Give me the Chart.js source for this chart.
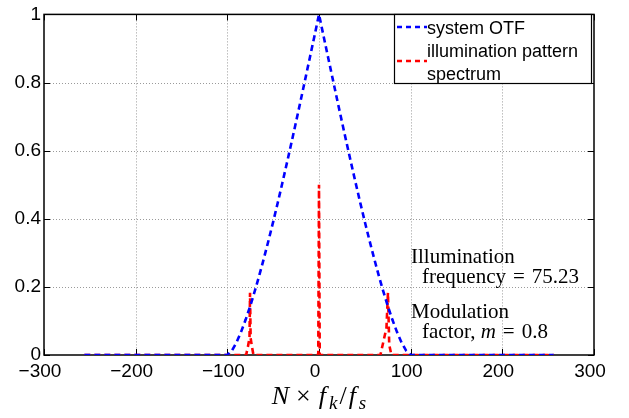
<!DOCTYPE html>
<html><head><meta charset="utf-8">
<script src="https://cdn.jsdelivr.net/npm/chart.js@4/dist/chart.umd.min.js"></script>
<style>html,body{margin:0;padding:0;background:#fff;}</style>
</head><body>
<canvas id="c" width="629" height="418"></canvas>
<script>
// ---- data ----
const otfX = [-256, -100, -95, -90, -85, -80, -75, -70, -65, -60, -55, -50, -45, -40, -35, -30, -25, -20, -15, -10, -5, 0,
              5, 10, 15, 20, 25, 30, 35, 40, 45, 50, 55, 60, 65, 70, 75, 80, 85, 90, 95, 100, 256];
const otfY = [0, 0, 0.013, 0.037, 0.068, 0.104, 0.144, 0.188, 0.235, 0.285, 0.337, 0.391, 0.447, 0.505, 0.564, 0.624, 0.685, 0.747, 0.810, 0.873, 0.936, 1,
              0.936, 0.873, 0.810, 0.747, 0.685, 0.624, 0.564, 0.505, 0.447, 0.391, 0.337, 0.285, 0.235, 0.188, 0.144, 0.104, 0.068, 0.037, 0.013, 0, 0];
const illumX = [-256, -79.5, -77.5, -75.8, -75.23, -74.6, -73.2, -71.5, -0.8, 0, 0.8, 67, 73.6, 75.23, 76.6, 79, 256];
const illumY = [0, 0, 0.025, 0.05, 0.183, 0.05, 0.025, 0, 0, 0.5, 0, 0, 0.08, 0.183, 0.03, 0, 0];
const xTicks = [-300, -200, -100, 0, 100, 200, 300];
const yTicks = [0, 0.2, 0.4, 0.6, 0.8, 1];
const seriesNames = [['system OTF'], ['illumination pattern', 'spectrum']];
const seriesColors = ['#0000ff', '#ff0000'];
const noteLines = [
  {x: 100.4, y: 0.270, parts: [['Illumination', 'n']]},
  {x: 112.4, y: 0.212, parts: [['frequency', 'n'], ['=', 'o'], ['75.23', 'n']]},
  {x: 100.4, y: 0.110, parts: [['Modulation', 'n']]},
  {x: 112.4, y: 0.049, parts: [['factor, ', 'n'], ['m', 'i'], ['=', 'o'], ['0.8', 'n']]}
];

const SANS = '"Liberation Sans", Arial, Helvetica, sans-serif';
const SERIF = '"Liberation Serif", "Times New Roman", serif';

function pts(xs, ys) { return xs.map((x, i) => ({x: x, y: ys[i]})); }

const framePlugin = {
  id: 'frame',
  beforeDatasetsDraw(chart) {
    const {ctx, chartArea: a, scales: {x, y}} = chart;
    ctx.save();
    ctx.strokeStyle = '#9a9a9a';
    ctx.lineWidth = 1;
    ctx.setLineDash([1, 2]);
    xTicks.forEach(v => {
      if (v === xTicks[0] || v === xTicks[xTicks.length - 1]) return;
      const px = Math.round(x.getPixelForValue(v)) + 0.5;
      ctx.beginPath(); ctx.moveTo(px, a.top); ctx.lineTo(px, a.bottom); ctx.stroke();
    });
    yTicks.forEach(v => {
      if (v === yTicks[0] || v === yTicks[yTicks.length - 1]) return;
      const py = Math.round(y.getPixelForValue(v)) + 0.5;
      ctx.beginPath(); ctx.moveTo(a.left, py); ctx.lineTo(a.right, py); ctx.stroke();
    });
    ctx.setLineDash([]);
    ctx.strokeStyle = '#000';
    const tl = 6;
    xTicks.forEach(v => {
      const px = Math.round(x.getPixelForValue(v)) + 0.5;
      ctx.beginPath();
      ctx.moveTo(px, a.bottom); ctx.lineTo(px, a.bottom - tl);
      ctx.moveTo(px, a.top); ctx.lineTo(px, a.top + tl);
      ctx.stroke();
    });
    yTicks.forEach(v => {
      const py = Math.round(y.getPixelForValue(v)) + 0.5;
      ctx.beginPath();
      ctx.moveTo(a.left, py); ctx.lineTo(a.left + tl, py);
      ctx.moveTo(a.right, py); ctx.lineTo(a.right - tl, py);
      ctx.stroke();
    });
    ctx.lineWidth = 1.5;
    ctx.strokeRect(a.left, a.top, a.right - a.left, a.bottom - a.top);
    ctx.restore();
  },
  afterDraw(chart) {
    const {ctx, chartArea: a, scales: {x, y}} = chart;
    ctx.save();
    // legend box
    const lx = 394, ly = 14, lw = 197, lh = 69;
    ctx.fillStyle = '#fff';
    ctx.fillRect(lx, ly, lw, lh);
    ctx.strokeStyle = '#000';
    ctx.lineWidth = 1.2;
    ctx.strokeRect(lx + 0.5, ly + 0.5, lw, lh);
    ctx.font = '18px ' + SANS;
    ctx.fillStyle = '#000';
    ctx.textBaseline = 'alphabetic';
    ctx.textAlign = 'left';
    const entries = [{lineY: 27, baselines: [34]}, {lineY: 61, baselines: [57, 80]}];
    entries.forEach((e, i) => {
      ctx.strokeStyle = seriesColors[i];
      ctx.lineWidth = 2.5;
      ctx.setLineDash([5, 4]);
      ctx.beginPath(); ctx.moveTo(397, e.lineY); ctx.lineTo(427, e.lineY); ctx.stroke();
      ctx.setLineDash([]);
      seriesNames[i].forEach((t, j) => ctx.fillText(t, 427, e.baselines[j]));
    });
    // annotations
    ctx.fillStyle = '#000';
    noteLines.forEach(n => {
      let px = x.getPixelForValue(n.x);
      const py = y.getPixelForValue(n.y);
      n.parts.forEach(([t, st]) => {
        ctx.font = (st === 'i' ? 'italic ' : '') + '21px ' + SERIF;
        if (st === 'o') px += 7;
        ctx.fillText(t, px, py);
        px += ctx.measureText(t).width + (st === 'o' ? 7 : 0);
      });
    });
    // x axis title: N × f_k / f_s
    const parts = [['N', 'italic 26px', 0, 7], ['\u00d7', '26px', 0, 8], ['f', 'italic 26px', 0, 3], ['k', 'italic 19px', 5, 2],
                   ['/', '26px', 0, 2], ['f', 'italic 26px', 0, 3], ['s', 'italic 19px', 5, 0]];
    let total = 0;
    parts.forEach(p => { ctx.font = p[1] + ' ' + SERIF; total += ctx.measureText(p[0]).width + p[3]; });
    let cx = (a.left + a.right) / 2 - total / 2;
    parts.forEach(p => {
      ctx.font = p[1] + ' ' + SERIF;
      ctx.fillText(p[0], cx, 404 + p[2]);
      cx += ctx.measureText(p[0]).width + p[3];
    });
    ctx.restore();
  }
};

new Chart(document.getElementById('c'), {
  type: 'line',
  data: {
    datasets: [
      {label: seriesNames[0].join(' '), data: pts(otfX, otfY), borderColor: seriesColors[0], borderWidth: 2.6,
       borderDash: [6, 4], pointRadius: 0, tension: 0, fill: false},
      {label: seriesNames[1].join(' '), data: pts(illumX, illumY), borderColor: seriesColors[1], borderWidth: 2.6,
       borderDash: [6, 4], pointRadius: 0, tension: 0, fill: false}
    ]
  },
  options: {
    responsive: false,
    animation: false,
    events: [],
    layout: {padding: {left: 0, right: 35, top: 10, bottom: 0}},
    plugins: {legend: {display: false}, tooltip: {enabled: false}},
    scales: {
      x: {
        type: 'linear', min: -300, max: 300,
        afterBuildTicks: s => { s.ticks = xTicks.map(v => ({value: v})); },
        afterFit: s => { s.height = 63; },
        grid: {display: false, drawTicks: false},
        border: {display: false},
        ticks: {color: '#000', font: {family: SANS, size: 19}, padding: 5, labelOffset: -4, maxRotation: 0,
                callback: v => (v < 0 ? '\u2212' + Math.abs(v) : String(v))}
      },
      y: {
        type: 'linear', min: 0, max: 1,
        afterBuildTicks: s => { s.ticks = yTicks.map(v => ({value: v})); },
        afterFit: s => { s.width = 44; },
        grid: {display: false, drawTicks: false},
        border: {display: false},
        ticks: {color: '#000', font: {family: SANS, size: 19}, padding: 3,
                callback: v => String(Math.round(v * 10) / 10)}
      }
    }
  },
  plugins: [framePlugin]
});
</script>
</body></html>
